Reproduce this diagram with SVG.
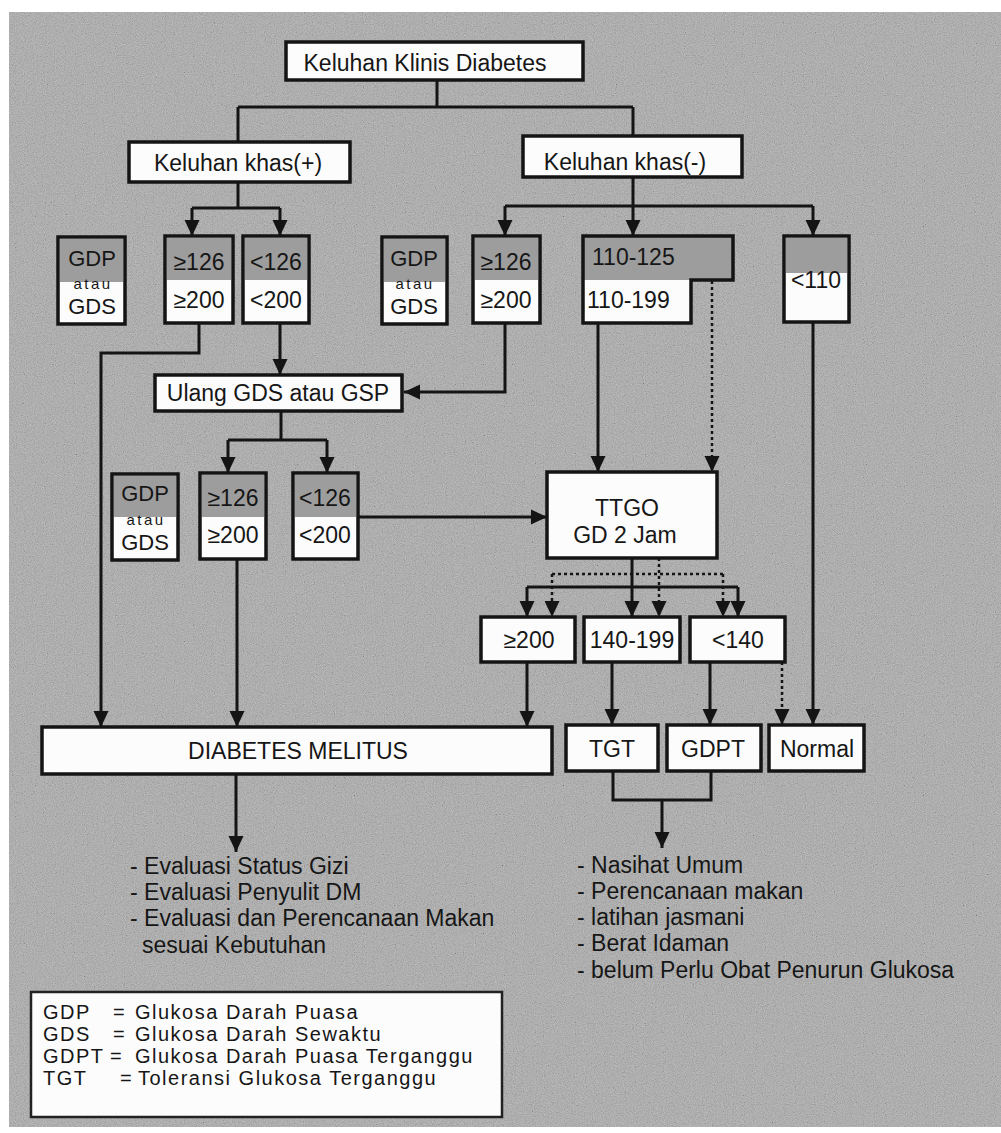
<svg xmlns="http://www.w3.org/2000/svg" width="1001" height="1133" viewBox="0 0 1001 1133">
<defs>
<style>
.box{fill:#fcfcfc;stroke:#141414;stroke-width:3.5}
.shade{fill:#9d9d9d}
.edge{fill:none;stroke:#141414;stroke-width:3.5}
.t{font-family:"Liberation Sans",Arial,sans-serif;font-size:23px;fill:#161616}
.g{font-size:22px}
.s{font-size:15px;letter-spacing:2.5px}
.lg{font-size:20px;letter-spacing:1.5px}
.c{text-anchor:middle}
.ln{fill:none;stroke:#141414;stroke-width:3}
.dash{fill:none;stroke:#141414;stroke-width:2.5;stroke-dasharray:3 3}
</style>
<marker id="ah" markerUnits="userSpaceOnUse" markerWidth="16" markerHeight="16" viewBox="0 0 16 16" refX="16" refY="8" orient="auto">
<path d="M0,0.5 L16,8 L0,15.5 z" fill="#141414"/>
</marker>
<filter id="grain" x="0" y="0" width="100%" height="100%">
<feTurbulence type="fractalNoise" baseFrequency="0.9" numOctaves="2" seed="7" result="n"/>
<feColorMatrix in="n" type="matrix" values="0.6 0.6 0.6 0 -0.4  0.6 0.6 0.6 0 -0.4  0.6 0.6 0.6 0 -0.4  0 0 0 0 1"/>
</filter>
</defs>

<g id="background">
<rect x="9" y="12" width="992" height="1115" fill="#a9a9a9"/>
<rect x="9" y="12" width="992" height="1115" filter="url(#grain)" opacity="0.3"/>
</g>

<g id="connectors">
<path class="ln" d="M437,80 V107 M238,107 H633 M238,107 V142 M633,107 V136"/>
<path class="ln" d="M238,182 V208 M192,208 H280"/>
<path class="ln" d="M192,208 V236" marker-end="url(#ah)"/>
<path class="ln" d="M280,208 V236" marker-end="url(#ah)"/>
<path class="ln" d="M633,177 V206 M505,206 H813"/>
<path class="ln" d="M505,206 V236" marker-end="url(#ah)"/>
<path class="ln" d="M633,206 V236" marker-end="url(#ah)"/>
<path class="ln" d="M813,206 V236" marker-end="url(#ah)"/>
<path class="ln" d="M199,323 V353 H101 V727" marker-end="url(#ah)"/>
<path class="ln" d="M280,323 V375" marker-end="url(#ah)"/>
<path class="ln" d="M505,323 V392 H404" marker-end="url(#ah)"/>
<path class="ln" d="M598,323 V472" marker-end="url(#ah)"/>
<path class="dash" d="M712,281 V472" marker-end="url(#ah)"/>
<path class="ln" d="M813,322 V725" marker-end="url(#ah)"/>
<path class="ln" d="M281,411 V440 M228,440 H327"/>
<path class="ln" d="M228,440 V473" marker-end="url(#ah)"/>
<path class="ln" d="M327,440 V473" marker-end="url(#ah)"/>
<path class="ln" d="M358,517 H547" marker-end="url(#ah)"/>
<path class="ln" d="M237,559 V727" marker-end="url(#ah)"/>
<path class="ln" d="M632,558 V617" marker-end="url(#ah)"/>
<path class="ln" d="M527,587 H738"/>
<path class="ln" d="M527,587 V617" marker-end="url(#ah)"/>
<path class="ln" d="M738,587 V617" marker-end="url(#ah)"/>
<path class="dash" d="M659,558 V617" marker-end="url(#ah)"/>
<path class="dash" d="M552,574 H723"/>
<path class="dash" d="M552,574 V617" marker-end="url(#ah)"/>
<path class="dash" d="M723,574 V617" marker-end="url(#ah)"/>
<path class="ln" d="M527,662 V727" marker-end="url(#ah)"/>
<path class="ln" d="M612,662 V725" marker-end="url(#ah)"/>
<path class="ln" d="M710,662 V725" marker-end="url(#ah)"/>
<path class="dash" d="M782,662 V725" marker-end="url(#ah)"/>
<path class="ln" d="M613,771 V800 H711 V771 M662,800 V848" marker-end="url(#ah)"/>
<path class="ln" d="M236,774 V852" marker-end="url(#ah)"/>
</g>

<g id="n-keluhan-klinis">
<rect class="box" x="286" y="42" width="297" height="38"/>
<text class="t c" x="425" y="71">Keluhan Klinis Diabetes</text>
</g>
<g id="n-khas-plus">
<rect class="box" x="129" y="142" width="221" height="40"/>
<text class="t c" x="238" y="171">Keluhan khas(+)</text>
</g>
<g id="n-khas-minus">
<rect class="box" x="523" y="136" width="219" height="41"/>
<text class="t c" x="625" y="170">Keluhan khas(-)</text>
</g>

<g id="n-gdp1">
<rect class="box" x="58" y="237" width="67" height="87"/>
<rect class="shade" x="60" y="239" width="63" height="43"/>
<text class="t g c" x="92" y="266">GDP</text>
<text class="t s c" x="93" y="289">atau</text>
<text class="t g c" x="92" y="314">GDS</text>
</g>
<g id="n-ge126-1">
<rect class="box" x="165" y="236" width="68" height="87"/>
<rect class="shade" x="167" y="238" width="64" height="42"/>
<text class="t c" x="199" y="270">≥126</text>
<text class="t c" x="199" y="308">≥200</text>
</g>
<g id="n-lt126-1">
<rect class="box" x="243" y="236" width="66" height="87"/>
<rect class="shade" x="245" y="238" width="62" height="42"/>
<text class="t c" x="276" y="270">&lt;126</text>
<text class="t c" x="276" y="308">&lt;200</text>
</g>
<g id="n-gdp2">
<rect class="box" x="382" y="237" width="65" height="87"/>
<rect class="shade" x="384" y="239" width="61" height="43"/>
<text class="t g c" x="414" y="266">GDP</text>
<text class="t s c" x="415" y="289">atau</text>
<text class="t g c" x="414" y="314">GDS</text>
</g>
<g id="n-ge126-2">
<rect class="box" x="473" y="236" width="67" height="87"/>
<rect class="shade" x="475" y="238" width="63" height="42"/>
<text class="t c" x="506" y="270">≥126</text>
<text class="t c" x="506" y="308">≥200</text>
</g>
<g id="n-110">
<rect class="shade" x="583" y="236" width="150" height="44"/>
<rect fill="#fcfcfc" x="583" y="280" width="108" height="43"/>
<path class="edge" d="M583,236 H733 V280 H691 V323 H583 Z"/>
<text class="t" x="592" y="265">110-125</text>
<text class="t" x="587" y="308">110-199</text>
</g>
<g id="n-lt110">
<rect class="box" x="784" y="236" width="65" height="86"/>
<rect class="shade" x="786" y="238" width="61" height="35"/>
<text class="t c" x="816" y="288">&lt;110</text>
</g>

<g id="n-ulang">
<rect class="box" x="155" y="375" width="247" height="36"/>
<text class="t c" x="278" y="401">Ulang GDS atau GSP</text>
</g>

<g id="n-gdp3">
<rect class="box" x="112" y="474" width="66" height="86"/>
<rect class="shade" x="114" y="476" width="62" height="41"/>
<text class="t g c" x="145" y="501">GDP</text>
<text class="t s c" x="146" y="525">atau</text>
<text class="t g c" x="145" y="550">GDS</text>
</g>
<g id="n-ge126-3">
<rect class="box" x="200" y="473" width="66" height="86"/>
<rect class="shade" x="202" y="475" width="62" height="42"/>
<text class="t c" x="233" y="506">≥126</text>
<text class="t c" x="233" y="543">≥200</text>
</g>
<g id="n-lt126-3">
<rect class="box" x="293" y="473" width="65" height="86"/>
<rect class="shade" x="295" y="475" width="61" height="42"/>
<text class="t c" x="325" y="506">&lt;126</text>
<text class="t c" x="325" y="543">&lt;200</text>
</g>

<g id="n-ttgo">
<rect class="box" x="547" y="472" width="170" height="86"/>
<text class="t c" x="627" y="516">TTGO</text>
<text class="t c" x="625" y="543">GD 2 Jam</text>
</g>

<g id="n-ge200">
<rect class="box" x="481" y="617" width="94" height="45"/>
<text class="t c" x="529" y="648">≥200</text>
</g>
<g id="n-140-199">
<rect class="box" x="584" y="617" width="96" height="45"/>
<text class="t c" x="632" y="648">140-199</text>
</g>
<g id="n-lt140">
<rect class="box" x="690" y="617" width="95" height="45"/>
<text class="t c" x="738" y="648">&lt;140</text>
</g>

<g id="n-dm">
<rect class="box" x="42" y="727" width="510" height="47"/>
<text class="t c" x="298" y="759">DIABETES MELITUS</text>
</g>
<g id="n-tgt">
<rect class="box" x="566" y="725" width="92" height="46"/>
<text class="t c" x="612" y="757">TGT</text>
</g>
<g id="n-gdpt">
<rect class="box" x="667" y="725" width="94" height="46"/>
<text class="t c" x="713" y="757">GDPT</text>
</g>
<g id="n-normal">
<rect class="box" x="769" y="725" width="95" height="46"/>
<text class="t c" x="817" y="757">Normal</text>
</g>

<g id="n-dm-actions">
<text class="t" x="130" y="874">- Evaluasi Status Gizi</text>
<text class="t" x="130" y="900">- Evaluasi Penyulit DM</text>
<text class="t" x="130" y="926">- Evaluasi dan Perencanaan Makan</text>
<text class="t" x="142" y="953">sesuai Kebutuhan</text>
</g>
<g id="n-tgt-actions">
<text class="t" x="577" y="873">- Nasihat Umum</text>
<text class="t" x="577" y="899">- Perencanaan makan</text>
<text class="t" x="577" y="925">- latihan jasmani</text>
<text class="t" x="577" y="951">- Berat Idaman</text>
<text class="t" x="577" y="978">- belum Perlu Obat Penurun Glukosa</text>
</g>

<g id="n-legend">
<rect x="31" y="992" width="471" height="125" fill="#fcfcfc" stroke="#222" stroke-width="2.5"/>
<text class="t lg" x="43" y="1019">GDP</text><text class="t lg" x="113" y="1019">=</text><text class="t lg" x="135" y="1019">Glukosa Darah Puasa</text>
<text class="t lg" x="43" y="1041">GDS</text><text class="t lg" x="113" y="1041">=</text><text class="t lg" x="135" y="1041">Glukosa Darah Sewaktu</text>
<text class="t lg" x="43" y="1063">GDPT</text><text class="t lg" x="110" y="1063">=</text><text class="t lg" x="135" y="1063">Glukosa Darah Puasa Terganggu</text>
<text class="t lg" x="43" y="1085">TGT</text><text class="t lg" x="120" y="1085">=</text><text class="t lg" x="138" y="1085">Toleransi Glukosa Terganggu</text>
</g>
</svg>
